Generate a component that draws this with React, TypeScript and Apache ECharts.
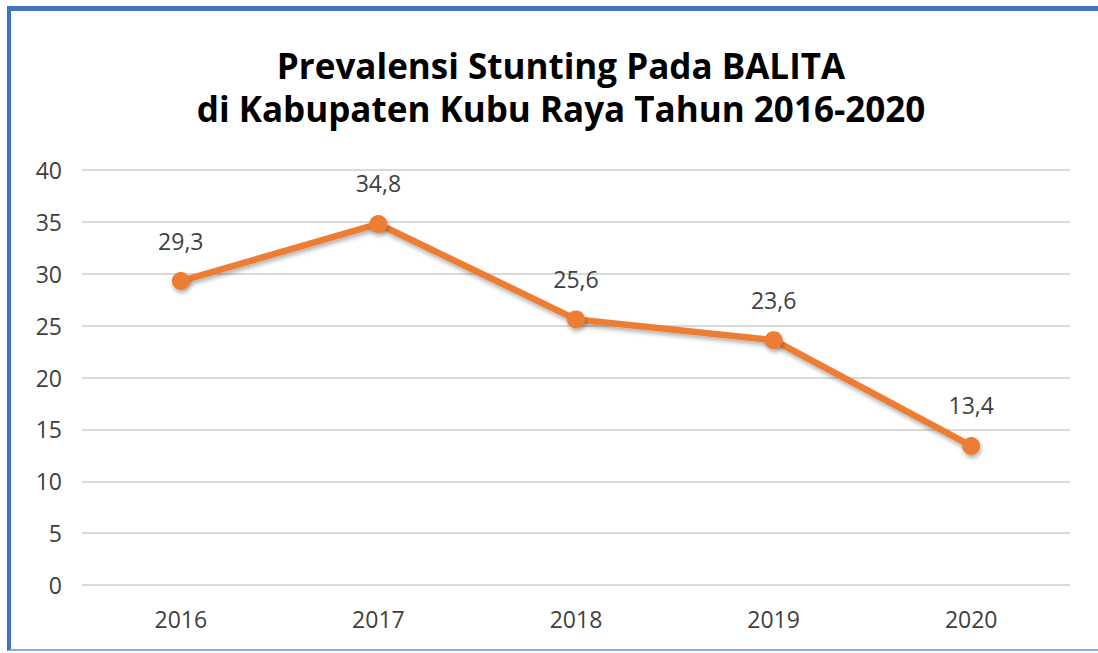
import React, { useEffect, useRef } from "react";
import * as echarts from "echarts";

const titleLines = ["Prevalensi Stunting Pada BALITA", "di Kabupaten Kubu Raya Tahun 2016-2020"];
const years = ["2016", "2017", "2018", "2019", "2020"];
const prevalence = [29.3, 34.8, 25.6, 23.6, 13.4];
const yTicks = { min: 0, max: 40, interval: 5 };

export default function App() {
  const ref = useRef<HTMLDivElement>(null);
  useEffect(() => {
    const chart = echarts.init(ref.current!, null, { renderer: "svg" });
    chart.setOption({
      animation: false,
      backgroundColor: "#ffffff",
      title: {
        text: titleLines.join("\n"),
        left: 556,
        textAlign: "center",
        top: 39,
        textStyle: {
          fontFamily: "Open Sans",
          fontWeight: "bold",
          fontSize: 35,
          lineHeight: 43,
          color: "#000000",
        },
      },
      grid: { left: 82, right: 28, top: 170, bottom: 68 },
      xAxis: {
        type: "category",
        data: years,
        boundaryGap: true,
        axisLine: { show: false },
        axisTick: { show: false },
        axisLabel: { fontFamily: "Open Sans", fontSize: 23, color: "#404040", margin: 22 },
      },
      yAxis: {
        type: "value",
        min: yTicks.min,
        max: yTicks.max,
        interval: yTicks.interval,
        axisLine: { show: false },
        axisTick: { show: false },
        axisLabel: { fontFamily: "Open Sans", fontSize: 23, color: "#404040", margin: 20 },
        splitLine: { lineStyle: { color: "#d9d9d9", width: 2 } },
      },
      series: [
        {
          type: "line",
          data: prevalence,
          symbol: "circle",
          symbolSize: 18,
          lineStyle: {
            color: "#ED7D31",
            width: 6.5,
            shadowColor: "rgba(0,0,0,0.3)",
            shadowBlur: 4,
            shadowOffsetX: 1,
            shadowOffsetY: 3,
          },
          itemStyle: {
            color: "#ED7D31",
            shadowColor: "rgba(0,0,0,0.3)",
            shadowBlur: 4,
            shadowOffsetX: 1,
            shadowOffsetY: 3,
          },
          label: {
            show: true,
            position: "top",
            distance: 20,
            fontFamily: "Open Sans",
            fontSize: 23,
            color: "#404040",
            formatter: (p: any) => String(p.value).replace(".", ","),
          },
        },
      ],
    });
    return () => chart.dispose();
  }, []);
  return (
    <div style={{ position: "fixed", left: 0, top: 0, width: 1098, height: 653, background: "#fff" }}>
      <div
        ref={ref}
        style={{ position: "absolute", left: 0, top: 0, width: 1098, height: 653 }}
      />
      <div
        style={{
          position: "absolute",
          left: 7,
          top: 6,
          width: 1091,
          height: 645,
          borderTop: "5px solid #4472C4",
          borderLeft: "4px solid #4472C4",
          borderBottom: "2px solid #8FAADC",
          boxSizing: "border-box",
          pointerEvents: "none",
        }}
      />
    </div>
  );
}
